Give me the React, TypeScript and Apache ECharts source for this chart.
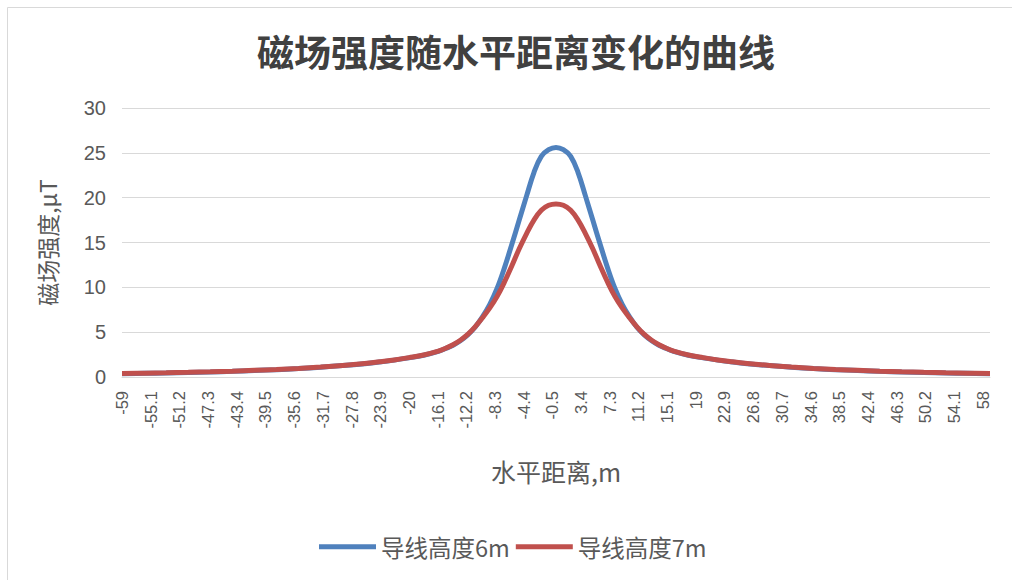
import React, { useEffect, useRef } from "react";
import * as echarts from "echarts";

// horizontal distance (m) of sampled points
const xDistances = [
  -59, -56, -53, -50, -47, -44, -41, -38, -35, -32, -29, -26, -24, -22, -20, -18,
  -16, -15, -14, -13, -12, -11, -10, -9, -8, -7, -6, -5, -4, -3, -2, -1,
  0,
  1, 2, 3, 4, 5, 6, 7, 8, 9, 10, 11, 12, 13, 14, 15, 16,
  18, 20, 22, 24, 26, 29, 32, 35, 38, 41, 44, 47, 50, 53, 56, 59,
];

// 导线高度6m (μT)
const field6m = [
  0.37, 0.41, 0.45, 0.5, 0.56, 0.63, 0.72, 0.82, 0.94, 1.09, 1.27, 1.49, 1.67, 1.88, 2.13, 2.43,
  2.86, 3.18, 3.55, 4.05, 4.7, 5.55, 6.7, 8.1, 9.9, 12.2, 14.8, 17.5, 20.2, 22.8, 24.6, 25.35,
  25.6,
  25.35, 24.6, 22.8, 20.2, 17.5, 14.8, 12.2, 9.9, 8.1, 6.7, 5.55, 4.7, 4.05, 3.55, 3.18, 2.86,
  2.43, 2.13, 1.88, 1.67, 1.49, 1.27, 1.09, 0.94, 0.82, 0.72, 0.63, 0.56, 0.5, 0.45, 0.41, 0.37,
];

// 导线高度7m (μT)
const field7m = [
  0.39, 0.43, 0.47, 0.52, 0.58, 0.65, 0.74, 0.84, 0.96, 1.11, 1.29, 1.51, 1.69, 1.9, 2.16, 2.46,
  2.89, 3.21, 3.6, 4.1, 4.75, 5.6, 6.6, 7.7, 9.0, 10.6, 12.4, 14.3, 16.0, 17.5, 18.6, 19.15,
  19.3,
  19.15, 18.6, 17.5, 16.0, 14.3, 12.4, 10.6, 9.0, 7.7, 6.6, 5.6, 4.75, 4.1, 3.6, 3.21, 2.89,
  2.46, 2.16, 1.9, 1.69, 1.51, 1.29, 1.11, 0.96, 0.84, 0.74, 0.65, 0.58, 0.52, 0.47, 0.43, 0.39,
];

const xTickLabels = [
  "-59", "-55.1", "-51.2", "-47.3", "-43.4", "-39.5", "-35.6", "-31.7", "-27.8", "-23.9", "-20", "-16.1", "-12.2", "-8.3", "-4.4", "-0.5",
  "3.4", "7.3", "11.2", "15.1", "19", "22.9", "26.8", "30.7", "34.6", "38.5", "42.4", "46.3", "50.2", "54.1", "58",
];

const seriesNames = ["导线高度6m", "导线高度7m"];
const colors = ["#4F81BD", "#C0504D"];

const CJK = "'Noto Sans CJK SC', 'Noto Sans', sans-serif";
const LAT = "'Liberation Sans', Arial, sans-serif";

export default function App() {
  const ref = useRef<HTMLDivElement>(null);
  useEffect(() => {
    if (!ref.current) return;
    const chart = echarts.init(ref.current, undefined, { renderer: "svg" });
    const mk = (vals: number[]) => xDistances.map((x, i) => [x, vals[i]]);
    chart.setOption({
      animation: false,
      backgroundColor: "#ffffff",
      color: colors,
      title: {
        text: "磁场强度随水平距离变化的曲线",
        left: 252,
        top: 27,
        textStyle: { fontFamily: CJK, fontSize: 37, fontWeight: "bold", color: "#404040" },
      },
      graphic: [
        {
          type: "rect",
          shape: { x: 7.5, y: 7.5, width: 1010, height: 600 },
          style: { fill: "none", stroke: "#d9d9d9", lineWidth: 1 },
          silent: true,
        },
      ],
      legend: {
        data: seriesNames,
        left: 314,
        top: 530,
        icon: "rect",
        itemWidth: 57,
        itemHeight: 5,
        itemGap: 6,
        textStyle: { fontFamily: CJK, fontSize: 23.5, color: "#595959" },
      },
      grid: { left: 122, right: 22, top: 108, bottom: 203 },
      xAxis: {
        type: "value",
        min: -59,
        max: 59,
        interval: 3.9,
        name: "水平距离,m",
        nameLocation: "middle",
        nameGap: 81,
        nameTextStyle: { fontFamily: CJK, fontSize: 25, color: "#595959" },
        axisLine: { show: true, lineStyle: { color: "#d9d9d9", width: 1 } },
        axisTick: { show: false },
        splitLine: { show: false },
        axisLabel: {
          rotate: 90,
          margin: 14,
          fontFamily: LAT,
          fontSize: 16.5,
          color: "#595959",
          showMaxLabel: false,
          formatter: (v: number) => {
            const s = String(Math.round(v * 10) / 10);
            return xTickLabels.includes(s) ? s : "";
          },
        },
      },
      yAxis: {
        type: "value",
        min: 0,
        max: 30,
        interval: 5,
        name: "磁场强度,μT",
        nameLocation: "middle",
        nameGap: 64,
        nameTextStyle: { fontFamily: CJK, fontSize: 23, color: "#595959" },
        axisLine: { show: false },
        axisTick: { show: false },
        splitLine: { lineStyle: { color: "#d9d9d9", width: 1 } },
        axisLabel: { margin: 16, fontFamily: LAT, fontSize: 20, color: "#595959" },
      },
      series: [
        {
          name: seriesNames[0],
          type: "line",
          smooth: 0.4,
          showSymbol: false,
          data: mk(field6m),
          lineStyle: { width: 5, color: colors[0] },
          itemStyle: { color: colors[0] },
        },
        {
          name: seriesNames[1],
          type: "line",
          smooth: 0.4,
          showSymbol: false,
          data: mk(field7m),
          lineStyle: { width: 5, color: colors[1] },
          itemStyle: { color: colors[1] },
        },
      ],
    });
    return () => chart.dispose();
  }, []);
  return (
    <div
      ref={ref}
      style={{ position: "absolute", left: 0, top: 0, width: 1012, height: 580 }}
    />
  );
}
